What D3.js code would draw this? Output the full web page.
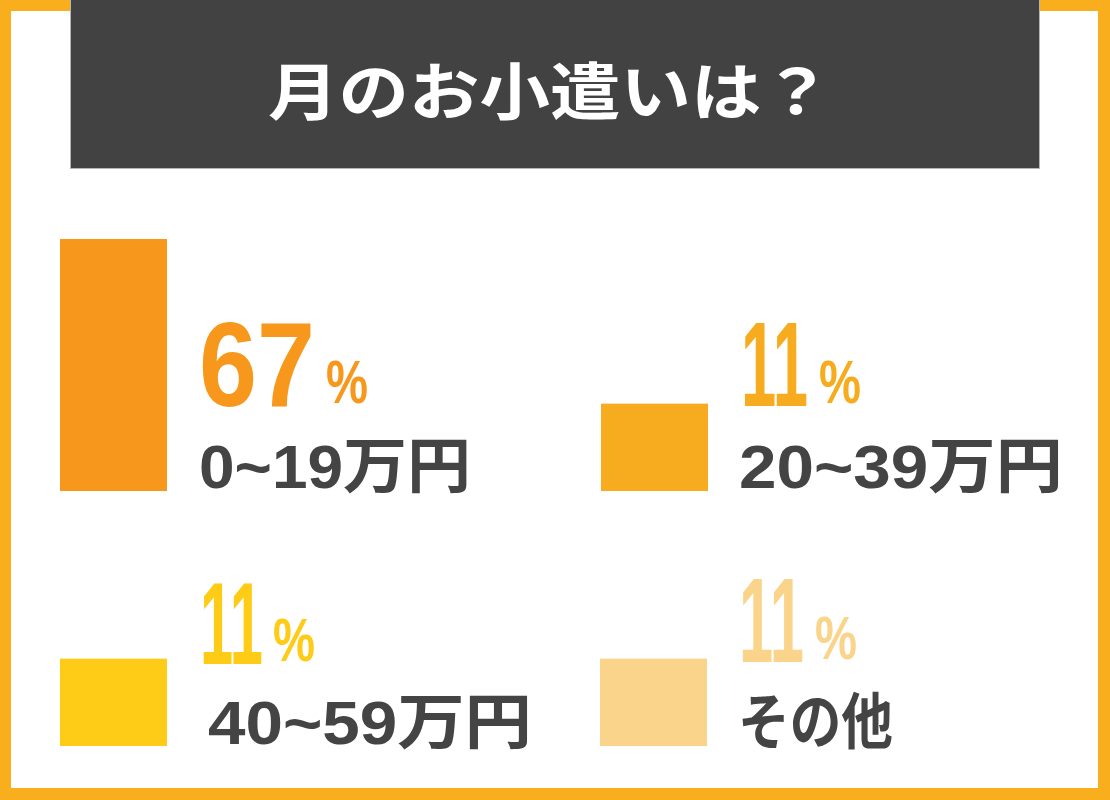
<!DOCTYPE html>
<html>
<head>
<meta charset="utf-8">
<script src="https://cdn.jsdelivr.net/npm/d3@7"></script>
<style>
  html, body { margin: 0; padding: 0; background: #fff; }
  svg { display: block; }
</style>
</head>
<body>
<svg id="chart" width="1110" height="800"></svg>
<script>
// ---- data ----
const title = "月のお小遣いは？";
const categories = ["0~19万円", "20~39万円", "40~59万円", "その他"];
const values = [67, 11, 11, 11];
const colors = ["#F7981D", "#F6AC1E", "#FECB17", "#F9D48A"];

// ---- layout (per item) ----
const layout = [
  { barX: 60,  barBottom: 491, pctX: 199, pctBase: 406, pctSize: 121, pctW: 116, perX: 326, perBase: 403, labX: 199, labBase: 488, labW: 272 },
  { barX: 601, barBottom: 491, pctX: 741, pctBase: 406, pctSize: 121, pctW: 67,  perX: 819, perBase: 403, labX: 739, labBase: 488, labW: 324 },
  { barX: 60,  barBottom: 746, pctX: 200, pctBase: 664, pctSize: 116, pctW: 63,  perX: 273, perBase: 661, labX: 208, labBase: 744, labW: 324 },
  { barX: 600, barBottom: 746, pctX: 739, pctBase: 662, pctSize: 121, pctW: 65,  perX: 815, perBase: 659, labX: 738, labBase: 744, labW: 155 }
];

const W = 1110, H = 800;
const svg = d3.select("#chart");
const cjk = "'Noto Sans CJK JP', 'Noto Sans', sans-serif";
const latin = "'Liberation Sans', Arial, 'Noto Sans CJK JP', sans-serif";

// fit a text horizontally into a target width using a transform
function fit(sel, x, y, w) {
  sel.each(function (d, i) {
    const node = this;
    const len = node.getComputedTextLength() || 1;
    const X = typeof x === "function" ? x(d, i) : x;
    const Y = typeof y === "function" ? y(d, i) : y;
    const T = typeof w === "function" ? w(d, i) : w;
    d3.select(node).attr("x", 0).attr("y", 0)
      .attr("transform", `translate(${X},${Y}) scale(${T / len},1)`);
  });
}

// frame
svg.append("rect").attr("x", 0).attr("y", 0).attr("width", W).attr("height", H).attr("fill", "#F8AE1D");
svg.append("rect").attr("x", 11).attr("y", 11).attr("width", 1087).attr("height", 777).attr("fill", "#fff");

// title box
svg.append("rect").attr("x", 70.5).attr("y", -1).attr("width", 969).attr("height", 169.5)
  .attr("fill", "#424242").attr("stroke", "#b5b5b5").attr("stroke-width", 1);
svg.append("text")
  .attr("font-family", cjk).attr("font-weight", 700).attr("font-size", 62)
  .attr("fill", "#fff").text(title)
  .call(fit, 268, 115, 564);

// bar height scale
const h = d3.scaleLinear().domain([0, 67]).range([55, 252]);
const barW = 107;

const items = svg.append("g").selectAll("g.item").data(values).join("g").attr("class", "item");

items.append("rect")
  .attr("x", (d, i) => layout[i].barX)
  .attr("y", (d, i) => layout[i].barBottom - h(d))
  .attr("width", barW)
  .attr("height", d => h(d))
  .attr("fill", (d, i) => colors[i]);

items.append("text")
  .attr("font-family", latin).attr("font-weight", 700)
  .attr("font-size", (d, i) => layout[i].pctSize)
  .attr("fill", (d, i) => colors[i])
  .text(d => String(d))
  .call(fit, (d, i) => layout[i].pctX, (d, i) => layout[i].pctBase, (d, i) => layout[i].pctW);

items.append("text")
  .attr("font-family", latin).attr("font-weight", 700).attr("font-size", 62)
  .attr("fill", (d, i) => colors[i])
  .text("%")
  .call(fit, (d, i) => layout[i].perX, (d, i) => layout[i].perBase, 42);

items.append("text")
  .attr("font-family", latin).attr("font-weight", 700).attr("font-size", 61)
  .attr("fill", "#444444")
  .text((d, i) => categories[i])
  .call(fit, (d, i) => layout[i].labX, (d, i) => layout[i].labBase, (d, i) => layout[i].labW);
</script>
</body>
</html>
